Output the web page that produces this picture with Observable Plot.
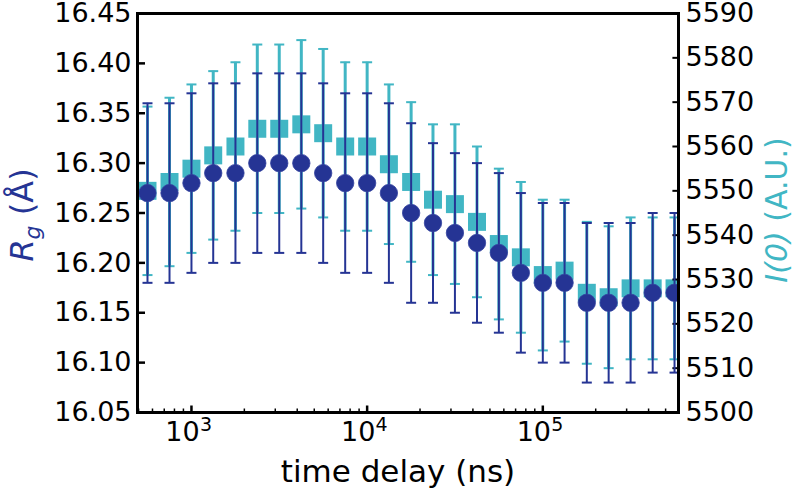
<!DOCTYPE html>
<html>
<head>
<meta charset="utf-8">
<script src="https://cdn.jsdelivr.net/npm/d3@7"></script>
<script src="https://cdn.jsdelivr.net/npm/@observablehq/plot@0.6"></script>
<style>
  html, body { margin: 0; padding: 0; background: #fff; }
  #chart { position: relative; width: 800px; height: 492px; }
  #chart svg { position: absolute; left: 0; top: 0; }
</style>
</head>
<body>
<div id="chart"></div>
<script>
// ---- data ----
const times = [562, 750, 1000, 1330, 1780, 2370, 3160, 4220, 5620, 7500, 10000, 13300, 17800,
               23700, 31600, 42200, 56200, 75000, 100000, 133000, 178000, 237000, 316000, 422000, 562000];
const rg = [16.27, 16.27, 16.28, 16.29, 16.29, 16.30, 16.30, 16.30, 16.29, 16.28, 16.28, 16.27, 16.25,
            16.24, 16.23, 16.22, 16.21, 16.19, 16.18, 16.18, 16.16, 16.16, 16.16, 16.17, 16.17];
const rgErr = [0.09, 0.09, 0.09, 0.09, 0.09, 0.09, 0.09, 0.09, 0.09, 0.09, 0.09, 0.09, 0.09,
               0.08, 0.08, 0.08, 0.08, 0.08, 0.08, 0.08, 0.08, 0.08, 0.08, 0.08, 0.08];
const i0 = [5550, 5552, 5555, 5558, 5560, 5564, 5564, 5565, 5563, 5560, 5560, 5556, 5552,
            5548, 5547, 5543, 5538, 5535, 5531, 5532, 5527, 5526, 5528, 5528, 5528];
const i0Err = [19, 19, 19, 19, 19, 19, 19, 19, 19, 19, 19, 18, 18,
               17, 18, 17, 17, 17, 17, 16, 16, 16, 16, 16, 16];

const rgTicks = [16.05, 16.10, 16.15, 16.20, 16.25, 16.30, 16.35, 16.40, 16.45];
const i0Ticks = [5500, 5510, 5520, 5530, 5540, 5550, 5560, 5570, 5580, 5590];
const xMajor = [1e3, 1e4, 1e5];
const xExponents = ["3", "4", "5"];
const xMinor = [500, 600, 700, 800, 900, 2000, 3000, 4000, 5000, 6000, 7000, 8000, 9000,
                20000, 30000, 40000, 50000, 60000, 70000, 80000, 90000,
                200000, 300000, 400000, 500000];

const xLabel = "time delay (ns)";
const dark = "#253494";
const cyan = "#41b6c4";

// ---- layout ----
const W = 800, H = 492;
const mL = 137, mR = 122, mT = 13, mB = 80;
const fw = W - mL - mR, fh = H - mT - mB;
const xDomain = [493, 592000];

const rgData = times.map((t, i) => ({t, v: rg[i], lo: rg[i] - rgErr[i], hi: rg[i] + rgErr[i]}));
const i0Data = times.map((t, i) => ({t, v: i0[i], lo: i0[i] - i0Err[i], hi: i0[i] + i0Err[i]}));

const cap = {draw(ctx) { ctx.moveTo(-5, 0); ctx.lineTo(5, 0); }};
const common = {
  width: W, height: H,
  marginLeft: mL, marginRight: mR, marginTop: mT, marginBottom: mB,
  x: {type: "log", domain: xDomain, axis: null},
  style: {fontFamily: "DejaVu Sans", fontSize: "27px", background: "transparent", color: "black"}
};

// bottom layer: I(0)
const plotI0 = Plot.plot({
  ...common,
  y: {domain: [5500, 5590], axis: null},
  style: {...common.style, background: "white"},
  marks: [
    Plot.ruleX(i0Data, {x: "t", y1: "lo", y2: "hi", stroke: cyan, strokeWidth: 3, clip: true}),
    Plot.dot(i0Data, {x: "t", y: "lo", symbol: cap, stroke: cyan, strokeWidth: 2, fill: "none", clip: true}),
    Plot.dot(i0Data, {x: "t", y: "hi", symbol: cap, stroke: cyan, strokeWidth: 2, fill: "none", clip: true}),
    Plot.dot(i0Data, {x: "t", y: "v", symbol: "square", r: 10.15, fill: cyan, stroke: "none", clip: true}),
    Plot.tickY(i0Ticks, {y: d => d, insetLeft: fw - 5.6, stroke: "black", strokeWidth: 2}),
    Plot.axisY({anchor: "right", ticks: i0Ticks, tickSize: 0, tickPadding: 7, fontSize: 27,
                tickFormat: d => String(d), label: null, fill: "black"})
  ]
});

// top layer: Rg
const plotRg = Plot.plot({
  ...common,
  y: {domain: [16.05, 16.45], axis: null},
  marks: [
    Plot.ruleX(rgData, {x: "t", y1: "lo", y2: "hi", stroke: dark, strokeWidth: 2, clip: true}),
    Plot.dot(rgData, {x: "t", y: "lo", symbol: cap, stroke: dark, strokeWidth: 2, fill: "none", clip: true}),
    Plot.dot(rgData, {x: "t", y: "hi", symbol: cap, stroke: dark, strokeWidth: 2, fill: "none", clip: true}),
    Plot.dot(rgData, {x: "t", y: "v", r: 8.7, fill: dark, stroke: "#3442a0", strokeWidth: 0.8, clip: true}),
    Plot.tickY(rgTicks, {y: d => d, insetRight: fw - 8, stroke: "black", strokeWidth: 2.5}),
    Plot.tickX(xMajor, {x: d => d, insetTop: fh - 6.5, stroke: "black", strokeWidth: 2.5}),
    Plot.tickX(xMinor, {x: d => d, insetTop: fh - 3.5, stroke: "black", strokeWidth: 1.5}),
    Plot.axisY({anchor: "left", ticks: rgTicks, tickSize: 0, tickPadding: 6, fontSize: 27,
                tickFormat: d => d.toFixed(2), label: null, fill: "black"}),
    Plot.text(xMajor, {x: d => d, text: () => "10", frameAnchor: "bottom", lineAnchor: "middle",
                       dx: -9, dy: 20, fontSize: 27, fill: "black"}),
    Plot.text(xMajor, {x: d => d, text: (d, i) => xExponents[i], frameAnchor: "bottom", lineAnchor: "middle",
                       dx: 14.5, dy: 12, fontSize: 19, fill: "black"}),
    Plot.frame({stroke: "black", strokeWidth: 3})
  ]
});

const chart = document.getElementById("chart");
chart.appendChild(plotI0);
chart.appendChild(plotRg);

// axis titles (real text with mixed styling)
const svg = d3.select(plotRg);
svg.append("text")
  .attr("x", 398).attr("y", 482)
  .attr("text-anchor", "middle")
  .attr("font-family", "DejaVu Sans").attr("font-size", 31).attr("fill", "black")
  .text(xLabel);

const left = svg.append("text")
  .attr("transform", "translate(33,215) rotate(-90)")
  .attr("text-anchor", "middle")
  .attr("font-family", "DejaVu Sans").attr("font-size", 32).attr("fill", dark);
left.append("tspan").attr("font-style", "italic").text("R");
left.append("tspan").attr("font-style", "italic").attr("font-size", 22).attr("dy", 7).text("g");
left.append("tspan").attr("dy", -7).text(" (Å)");

const right = svg.append("text")
  .attr("transform", "translate(787,210) rotate(-90)")
  .attr("text-anchor", "middle")
  .attr("font-family", "DejaVu Sans").attr("font-size", 30).attr("fill", cyan);
right.append("tspan").attr("font-style", "italic").text("I(0)");
right.append("tspan").text(" (A.U.)");
</script>
</body>
</html>
